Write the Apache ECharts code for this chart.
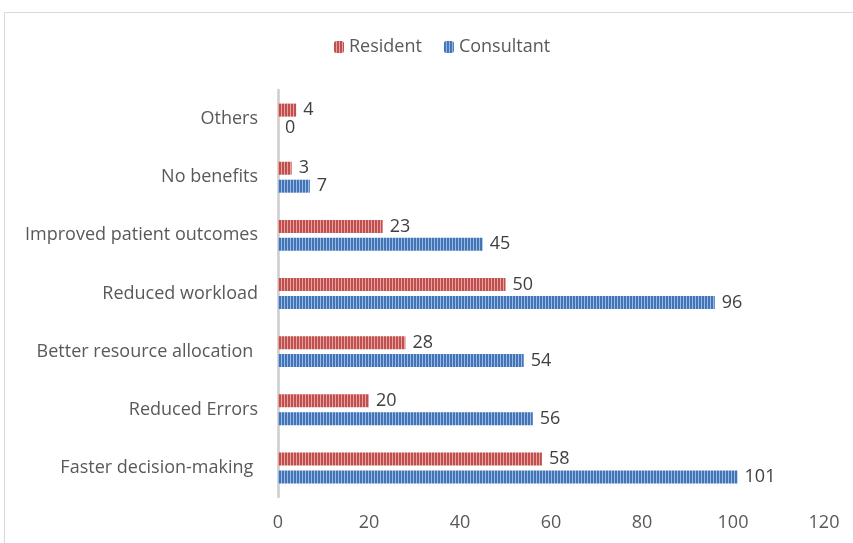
<!DOCTYPE html>
<html>
<head>
<meta charset="utf-8">
<script src="https://cdn.jsdelivr.net/npm/echarts@6/dist/echarts.min.js"></script>
<style>html,body{margin:0;padding:0;background:#fff}#c{width:853px;height:543px}</style>
</head>
<body>
<div id="c"></div>
<script>
const categories = ['Faster decision-making ', 'Reduced Errors', 'Better resource allocation ', 'Reduced workload', 'Improved patient outcomes', 'No benefits', 'Others'];
const residentValues = [58, 20, 28, 50, 23, 3, 4];
const consultantValues = [101, 56, 54, 96, 45, 7, 0];
const xTicks = [0, 20, 40, 60, 80, 100, 120];

function stripe(dark, light) {
  const c = document.createElement('canvas');
  c.width = 3; c.height = 4;
  const g = c.getContext('2d');
  g.fillStyle = light; g.fillRect(0, 0, 3, 4);
  g.fillStyle = dark; g.fillRect(0, 0, 2, 4);
  return { image: c, repeat: 'repeat' };
}
const redPat = stripe('#c0504d', '#e6a3a1');
const bluePat = stripe('#4275b8', '#9dbbe2');

const FONT = 'Open Sans';
const FS = 18;
const chart = echarts.init(document.getElementById('c'), null, { renderer: 'canvas' });
chart.setOption({
  animation: false,
  backgroundColor: '#fff',
  graphic: [{
    type: 'rect', shape: { x: 4.5, y: 12.5, width: 900, height: 600 },
    style: { fill: 'none', stroke: '#d9d9d9', lineWidth: 1 }, silent: true, z: -1
  }],
  legend: {
    top: 33, left: 329,
    data: ['Resident', 'Consultant'],
    itemWidth: 10, itemHeight: 12, itemGap: 22,
    textStyle: { fontFamily: FONT, fontSize: FS, color: '#595959' }
  },
  grid: { left: 278, right: 29, top: 90, bottom: 46 },
  xAxis: {
    type: 'value', min: xTicks[0], max: xTicks[xTicks.length - 1], interval: xTicks[1] - xTicks[0],
    axisLine: { show: false }, axisTick: { show: false }, splitLine: { show: false },
    axisLabel: { fontFamily: FONT, fontSize: FS, color: '#595959', margin: 17 }
  },
  yAxis: {
    type: 'category', data: categories,
    axisLine: { show: true, lineStyle: { color: '#cdcdcd', width: 2.5 } },
    axisTick: { show: false },
    axisLabel: { fontFamily: FONT, fontSize: FS, color: '#595959', margin: 20 }
  },
  series: [
    {
      name: 'Resident', type: 'bar', data: residentValues,
      barWidth: 13, barGap: '38%',
      itemStyle: { color: redPat },
      label: { show: true, position: 'right', distance: 7, fontFamily: FONT, fontSize: FS, color: '#404040' }
    },
    {
      name: 'Consultant', type: 'bar', data: consultantValues,
      barWidth: 13, barGap: '38%',
      itemStyle: { color: bluePat },
      label: { show: true, position: 'right', distance: 7, fontFamily: FONT, fontSize: FS, color: '#404040' }
    }
  ]
});
</script>
</body>
</html>
